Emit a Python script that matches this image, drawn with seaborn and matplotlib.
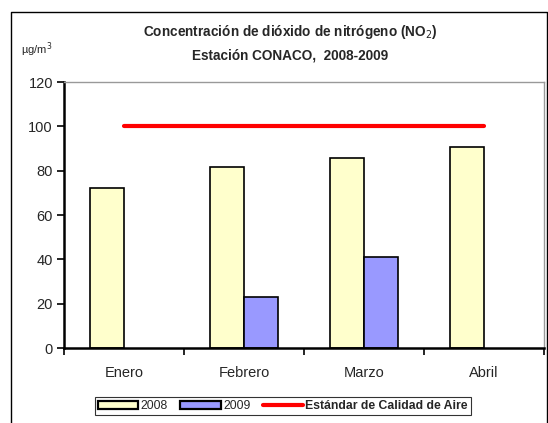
import matplotlib
matplotlib.use("Agg")
import matplotlib.pyplot as plt
import seaborn as sns
import pandas as pd
from matplotlib.patches import Patch
from matplotlib.lines import Line2D

meses = ["Enero", "Febrero", "Marzo", "Abril"]
anio_2008 = [72, 81.7, 85.8, 90.5]
anio_2009 = [None, 23, 41, None]
estandar = [100, 100, 100, 100]
y_ticks = [0, 20, 40, 60, 80, 100, 120]

amarillo = "#FFFFCC"
azul = "#9999FF"
rojo = "#FF0000"

df = pd.DataFrame({
    "Mes": meses * 2,
    "Año": ["2008"] * 4 + ["2009"] * 4,
    "Valor": anio_2008 + anio_2009,
})

sns.set_style("white")
plt.rcParams["font.family"] = ["Liberation Sans", "DejaVu Sans"]

fig = plt.figure(figsize=(5.48, 4.23), dpi=100)
ax = fig.add_axes([64 / 548, 1 - 348 / 423, 480 / 548, 266 / 423])

sns.barplot(data=df, x="Mes", y="Valor", hue="Año", order=meses,
            palette=[amarillo, azul], saturation=1, width=0.567,
            edgecolor="black", linewidth=1.2, ax=ax, legend=False)
ax.plot(range(len(meses)), estandar, color=rojo, lw=3, zorder=3)

ax.set_xlim(-0.5, 3.5)
ax.set_ylim(0, 120)
ax.set_yticks(y_ticks)
ax.set_xlabel("")
ax.set_ylabel("")

for s in ["left", "bottom"]:
    ax.spines[s].set_color("black")
    ax.spines[s].set_linewidth(1.8)
for s in ["top", "right"]:
    ax.spines[s].set_color("#999999")
    ax.spines[s].set_linewidth(1.0)

ax.tick_params(axis="y", direction="out", length=5, width=1.2, color="black",
               labelsize=10.5, pad=3, left=True)
ax.set_xticks(range(len(meses)))
ax.set_xticklabels(meses)
ax.set_xticks([-0.5, 0.5, 1.5, 2.5, 3.5], minor=True)
ax.tick_params(axis="x", which="major", length=0, labelsize=10.5, pad=13)
ax.tick_params(axis="x", which="minor", direction="out", length=5, width=1.2,
               color="black", bottom=True)

fig.text(290 / 548, 1 - 32 / 423, "Concentración de dióxido de nitrógeno (NO$_2$)",
         ha="center", va="center", fontsize=9.8, fontweight="bold")
fig.text(290 / 548, 1 - 55 / 423, "Estación CONACO,  2008-2009",
         ha="center", va="center", fontsize=9.8, fontweight="bold")
fig.text(37 / 548, 1 - 50 / 423, "µg/m$^3$", ha="center", va="center", fontsize=8)

handles = [
    Patch(facecolor=amarillo, edgecolor="black", linewidth=1.6),
    Patch(facecolor=azul, edgecolor="black", linewidth=1.6),
    Line2D([0], [0], color=rojo, lw=3),
]
leg = fig.legend(handles, ["2008", "2009", "Estándar de Calidad de Aire"],
                 loc="center", bbox_to_anchor=(283 / 548, 1 - 406 / 423), ncol=3,
                 frameon=True, fontsize=8.8, handlelength=3.3, handleheight=0.6,
                 columnspacing=1.0, handletextpad=0.2, borderpad=0.25,
                 fancybox=False, edgecolor="black")
leg.get_frame().set_linewidth(0.8)
leg.get_texts()[2].set_fontweight("bold")

# marco exterior
x0, x1, yt = 10.5 / 548, 546.5 / 548, 1 - 12.5 / 423
fig.add_artist(Line2D([x0, x0, x1, x1], [0, yt, yt, 0], color="black", lw=1,
                      transform=fig.transFigure))

fig.savefig("out.png", dpi=100)
